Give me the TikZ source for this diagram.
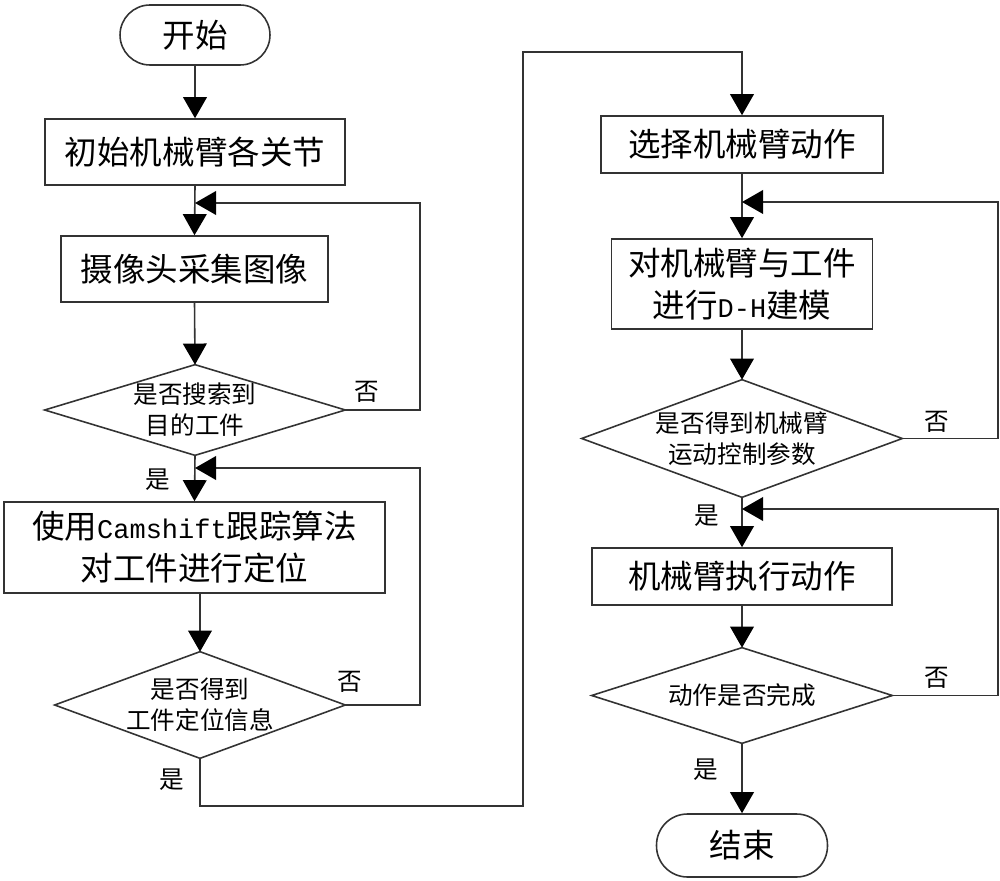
\documentclass[tikz,border=0pt]{standalone}
\usepackage{fontspec}
\setmainfont{Noto Sans CJK SC}
\newfontfamily\lmono[Scale=0.83]{Liberation Mono}
\usetikzlibrary{arrows.meta}
\newcommand{\bigf}{\fontsize{18.5pt}{24pt}\selectfont}
\newcommand{\smallf}{\fontsize{14pt}{17.5pt}\selectfont}
\tikzset{
  box/.style={draw=black!80, line width=0.9pt, rectangle, inner sep=0pt, font=\bigf, align=center},
  term/.style={box, rounded corners=0.6cm},
  dia/.style={rectangle, inner sep=0pt, font=\smallf, align=center},
  ln/.style={draw=black!80, line width=0.9pt},
  arr/.style={ln, -{Triangle[length=12pt,width=13.5pt,color=black,fill=black]}},
  lab/.style={font=\smallf, inner sep=0pt}
}
\begin{document}
\begin{tikzpicture}[x=0.02cm,y=-0.02cm]
\useasboundingbox (0,0) rectangle (1000,881);
% left column
\node[term, minimum width=3cm, minimum height=1.2cm] (start) at (195,35) {开始};
\node[box, minimum width=6cm, minimum height=1.32cm] (b1) at (195,152) {初始机械臂各关节};
\node[box, minimum width=5.34cm, minimum height=1.32cm] (b2) at (194.5,269) {摄像头采集图像};
\node[dia, minimum width=6cm, minimum height=1.8cm] (d1) at (195,410) {是否搜索到\\目的工件};
\draw[ln] (d1.north) -- (d1.east) -- (d1.south) -- (d1.west) -- cycle;
\node[box, minimum width=7.62cm, minimum height=1.82cm] (b3) at (194.5,547.5) {使用{\lmono Camshift}跟踪算法\\对工件进行定位};
\node[dia, minimum width=5.8cm, minimum height=2.12cm] (d2) at (200,705) {是否得到\\工件定位信息};
\draw[ln] (d2.north) -- (d2.east) -- (d2.south) -- (d2.west) -- cycle;
% right column
\node[box, minimum width=5.64cm, minimum height=1.14cm] (b4) at (742,144.5) {选择机械臂动作};
\node[box, minimum width=5.22cm, minimum height=1.8cm] (b5) at (742,284) {对机械臂与工件\\进行{\lmono D-H}建模};
\node[dia, minimum width=6.4cm, minimum height=2.34cm] (d3) at (742,438.5) {是否得到机械臂\\运动控制参数};
\draw[ln] (d3.north) -- (d3.east) -- (d3.south) -- (d3.west) -- cycle;
\node[box, minimum width=6cm, minimum height=1.14cm] (b6) at (742,576.5) {机械臂执行动作};
\node[dia, minimum width=6cm, minimum height=1.9cm] (d4) at (742,695.5) {动作是否完成};
\draw[ln] (d4.north) -- (d4.east) -- (d4.south) -- (d4.west) -- cycle;
\node[term, minimum width=3.42cm, minimum height=1.26cm, rounded corners=0.62cm] (end) at (742,845.5) {结束};
% coordinates
\coordinate (m1) at (195,203);
\coordinate (f1) at (420,203);
\coordinate (m2) at (195,468);
\coordinate (f2) at (420,468);
\coordinate (c1) at (200,806);
\coordinate (c2) at (523,806);
\coordinate (c3) at (523,52);
\coordinate (c4) at (742,52);
\coordinate (m3) at (742,202);
\coordinate (f3) at (998,202);
\coordinate (m4) at (742,509);
\coordinate (f4) at (998,509);
% connectors left
\draw[arr] (start.south) -- (b1.north);
\draw[arr] (b1.south) -- (b2.north);
\draw[arr] (d1.east) -| (f1) -- (m1);
\draw[arr] (b2.south) -- (d1.north);
\draw[arr] (d1.south) -- (b3.north);
\draw[arr] (d2.east) -| (f2) -- (m2);
\draw[arr] (b3.south -| d2.north) -- (d2.north);
\draw[arr] (d2.south) -- (c1) -- (c2) -- (c3) -- (c4) -- (b4.north);
% connectors right
\draw[arr] (b4.south) -- (b5.north);
\draw[arr] (d3.east) -| (f3) -- (m3);
\draw[arr] (b5.south) -- (d3.north);
\draw[arr] (d3.south) -- (b6.north);
\draw[arr] (d4.east) -| (f4) -- (m4);
\draw[arr] (b6.south) -- (d4.north);
\draw[arr] (d4.south) -- (end.north);
% labels
\node[lab] (n1) at (367,392) {否};
\node[lab] (y1) at (158,480) {是};
\node[lab] (n2) at (350,682) {否};
\node[lab] (y2) at (172,780) {是};
\node[lab] (n3) at (937,422) {否};
\node[lab] (y3) at (707,516) {是};
\node[lab] (n4) at (937,678) {否};
\node[lab] (y4) at (706,770) {是};
\end{tikzpicture}
\end{document}
